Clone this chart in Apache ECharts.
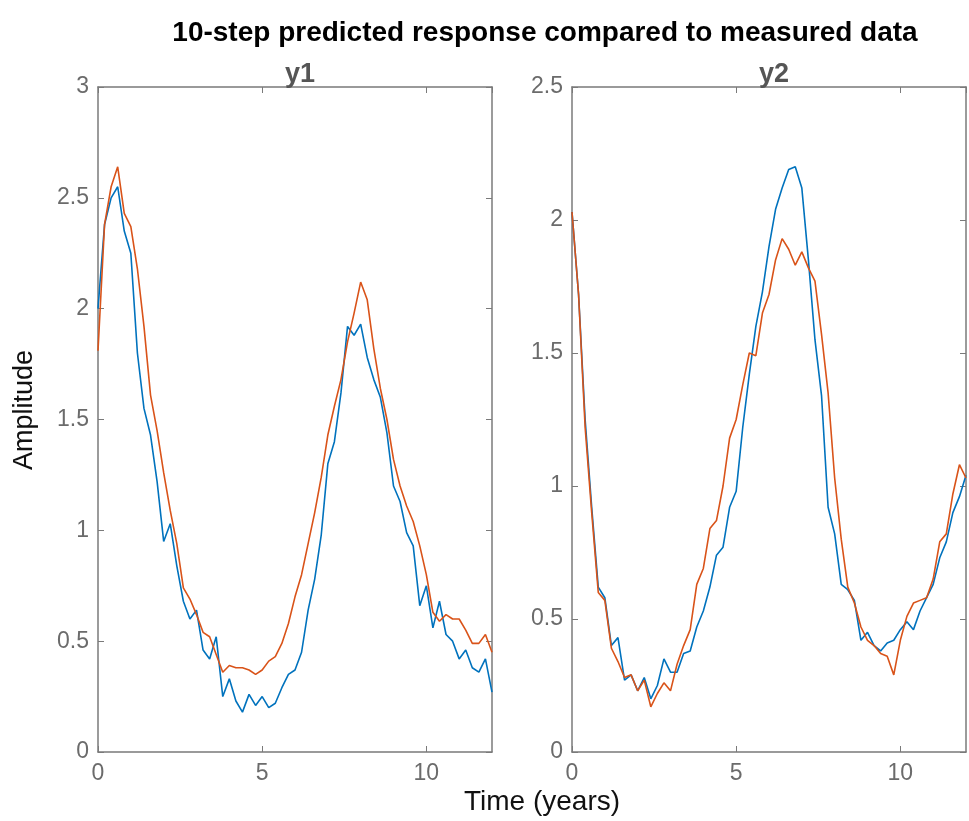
<!DOCTYPE html>
<html>
<head>
<meta charset="utf-8">
<title>10-step predicted response</title>
<script src="https://cdn.jsdelivr.net/npm/echarts@6/dist/echarts.min.js"></script>
<style>
  html, body { margin: 0; padding: 0; background: #fff; }
  #main { width: 969px; height: 821px; }
</style>
</head>
<body>
<div id="main"></div>
<script>
// sample spacing of the series (years)
const step = 0.2;

// y1: measured (blue) and 10-step predicted (orange)
const y1Measured = [2.00, 2.38, 2.50, 2.55, 2.35, 2.25, 1.80, 1.55, 1.43, 1.22,
  0.95, 1.03, 0.84, 0.68, 0.60, 0.64, 0.46, 0.42, 0.52, 0.25,
  0.33, 0.23, 0.18, 0.26, 0.21, 0.25, 0.20, 0.22, 0.29, 0.35,
  0.37, 0.45, 0.64, 0.78, 0.98, 1.30, 1.40, 1.62, 1.92, 1.88,
  1.93, 1.78, 1.68, 1.60, 1.44, 1.20, 1.13, 0.99, 0.93, 0.66,
  0.75, 0.56, 0.68, 0.53, 0.50, 0.42, 0.46, 0.38, 0.36, 0.42, 0.27];
const y1Predicted = [1.81, 2.38, 2.55, 2.64, 2.43, 2.37, 2.18, 1.92, 1.61, 1.45,
  1.26, 1.09, 0.94, 0.74, 0.69, 0.62, 0.54, 0.52, 0.44, 0.36,
  0.39, 0.38, 0.38, 0.37, 0.35, 0.37, 0.41, 0.43, 0.49, 0.58,
  0.70, 0.80, 0.94, 1.08, 1.24, 1.43, 1.56, 1.68, 1.85, 1.98,
  2.12, 2.04, 1.82, 1.64, 1.50, 1.32, 1.20, 1.11, 1.04, 0.93,
  0.80, 0.63, 0.59, 0.62, 0.60, 0.60, 0.55, 0.49, 0.49, 0.53, 0.45];

// y2: measured (blue) and 10-step predicted (orange)
const y2Measured = [2.03, 1.72, 1.25, 0.92, 0.62, 0.58, 0.40, 0.43, 0.27, 0.29,
  0.23, 0.28, 0.20, 0.25, 0.35, 0.30, 0.30, 0.37, 0.38, 0.47,
  0.53, 0.62, 0.74, 0.77, 0.92, 0.98, 1.22, 1.42, 1.60, 1.73,
  1.90, 2.04, 2.12, 2.19, 2.20, 2.12, 1.85, 1.55, 1.34, 0.92,
  0.82, 0.63, 0.61, 0.57, 0.42, 0.45, 0.40, 0.38, 0.41, 0.42,
  0.46, 0.49, 0.46, 0.53, 0.58, 0.63, 0.73, 0.79, 0.90, 0.96, 1.04];
const y2Predicted = [2.03, 1.72, 1.22, 0.90, 0.60, 0.57, 0.39, 0.34, 0.28, 0.29,
  0.23, 0.27, 0.17, 0.22, 0.26, 0.23, 0.33, 0.40, 0.46, 0.63,
  0.69, 0.84, 0.87, 1.00, 1.18, 1.25, 1.38, 1.50, 1.49, 1.65,
  1.72, 1.85, 1.93, 1.89, 1.83, 1.88, 1.82, 1.77, 1.57, 1.35,
  1.03, 0.80, 0.62, 0.56, 0.47, 0.42, 0.40, 0.37, 0.36, 0.29,
  0.42, 0.51, 0.56, 0.57, 0.58, 0.65, 0.79, 0.82, 0.97, 1.08, 1.03];

const xTicks = [0, 12, 5];      // min, max, interval
const y1Ticks = [0, 3, 0.5];
const y2Ticks = [0, 2.5, 0.5];

const years = y1Measured.map((_, i) => +(i * step).toFixed(2));
const pairs = arr => arr.map((v, i) => [years[i], v]);

const blue = '#0072BD';
const orange = '#D95319';
const axisGray = '#7a7a7a';
const labelGray = '#6b6b6b';
const font = 'Liberation Sans, Arial, sans-serif';

function xAxes(gridIndex) {
  const base = {
    type: 'value', gridIndex: gridIndex,
    min: xTicks[0], max: xTicks[1], interval: xTicks[2],
    axisLine: { show: true, onZero: false, lineStyle: { color: axisGray, width: 1.5 } },
    axisTick: { show: true, inside: true, length: 6, lineStyle: { color: axisGray } },
    splitLine: { show: false }
  };
  return [
    Object.assign({}, base, {
      position: 'bottom',
      axisLabel: { color: labelGray, fontSize: 23, fontFamily: font, margin: 10,
                   showMaxLabel: false }
    }),
    Object.assign({}, base, { position: 'top', axisLabel: { show: false } })
  ];
}

function yAxes(gridIndex, ticks) {
  const base = {
    type: 'value', gridIndex: gridIndex,
    min: ticks[0], max: ticks[1], interval: ticks[2],
    axisLine: { show: true, onZero: false, lineStyle: { color: axisGray, width: 1.5 } },
    axisTick: { show: true, inside: true, length: 6, lineStyle: { color: axisGray } },
    splitLine: { show: false }
  };
  return [
    Object.assign({}, base, {
      position: 'left',
      axisLabel: { color: labelGray, fontSize: 23, fontFamily: font, margin: 9 }
    }),
    Object.assign({}, base, { position: 'right', axisLabel: { show: false } })
  ];
}

function line(name, data, color, xi, yi) {
  return {
    name: name, type: 'line', data: pairs(data),
    xAxisIndex: xi, yAxisIndex: yi,
    showSymbol: false, symbol: 'none',
    lineStyle: { color: color, width: 1.6 },
    animation: false
  };
}

const chart = echarts.init(document.getElementById('main'));

const option = {
  backgroundColor: '#fff',
  animation: false,
  title: [
    { text: '10-step predicted response compared to measured data',
      left: 540, top: 14, textAlign: 'center',
      textStyle: { fontSize: 28, fontWeight: 'bold', color: '#000', fontFamily: font } },
    { text: 'y1', left: 295, top: 56, textAlign: 'center',
      textStyle: { fontSize: 27, fontWeight: 'bold', color: '#555', fontFamily: font } },
    { text: 'y2', left: 769, top: 56, textAlign: 'center',
      textStyle: { fontSize: 27, fontWeight: 'bold', color: '#555', fontFamily: font } }
  ],
  grid: [
    { left: 98, top: 87, width: 394, height: 665, containLabel: false, outerBoundsMode: 'none' },
    { left: 572, top: 87, width: 394, height: 665, containLabel: false, outerBoundsMode: 'none' }
  ],
  xAxis: xAxes(0).concat(xAxes(1)),
  yAxis: yAxes(0, y1Ticks).concat(yAxes(1, y2Ticks)),
  series: [
    line('y1 measured', y1Measured, blue, 0, 0),
    line('y1 predicted', y1Predicted, orange, 0, 0),
    line('y2 measured', y2Measured, blue, 2, 2),
    line('y2 predicted', y2Predicted, orange, 2, 2)
  ],
  graphic: [
    { type: 'text', x: 25, y: 410, rotation: Math.PI / 2,
      style: { text: 'Amplitude', fontSize: 27, fill: '#111', fontFamily: font,
               align: 'center', verticalAlign: 'middle' } },
    { type: 'text', x: 542, y: 802,
      style: { text: 'Time (years)', fontSize: 28, fill: '#111', fontFamily: font,
               align: 'center', verticalAlign: 'middle' } }
  ]
};

chart.setOption(option);
</script>
</body>
</html>
